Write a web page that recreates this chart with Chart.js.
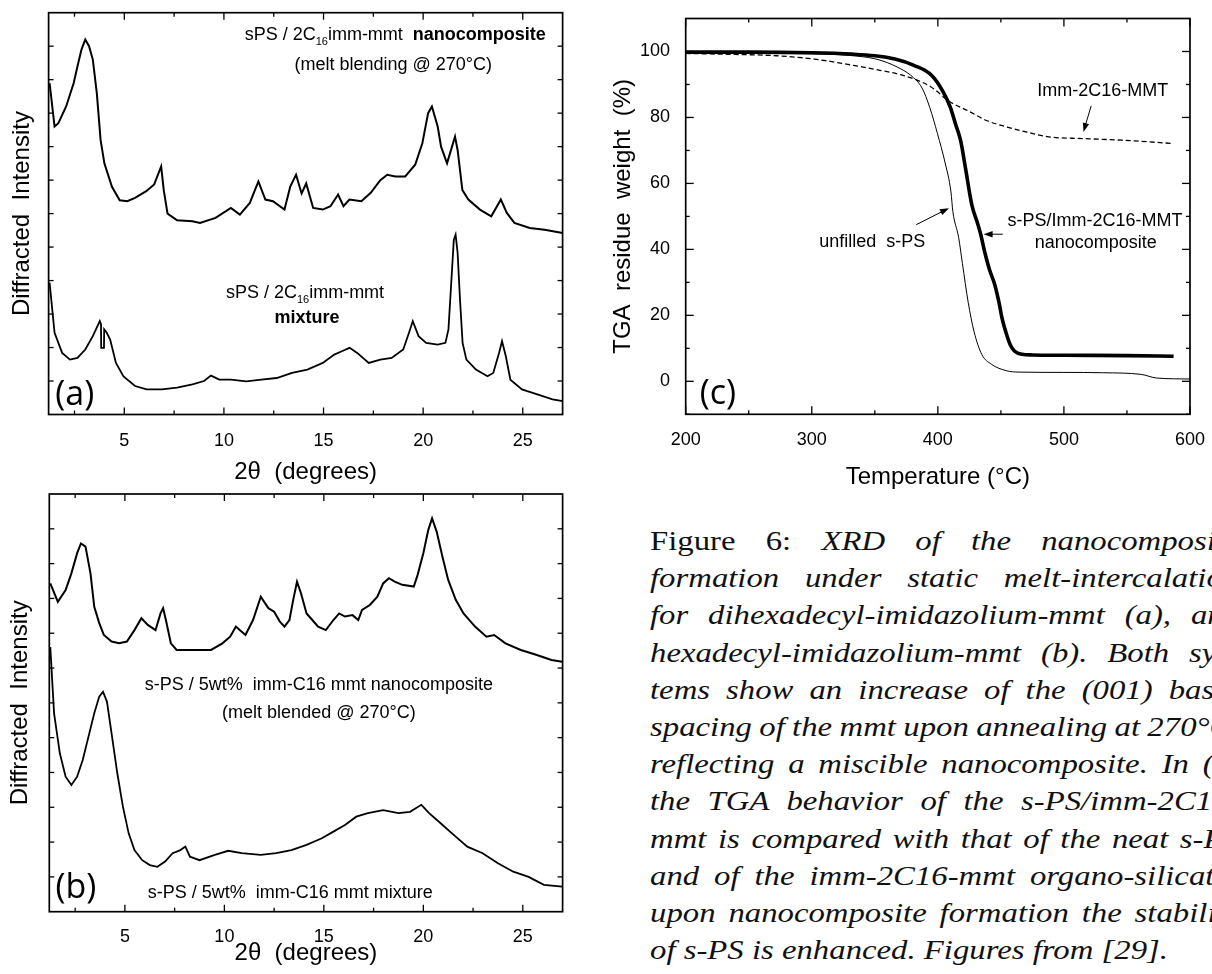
<!DOCTYPE html>
<html>
<head>
<meta charset="utf-8">
<script src="https://cdn.jsdelivr.net/npm/chart.js@4.4.1/dist/chart.umd.min.js"></script>
<style>
html,body{margin:0;padding:0;background:#fff;width:1212px;height:974px;overflow:hidden;position:relative}
canvas{position:absolute}
#capt div{position:absolute;left:650px;width:504px;height:36px;overflow:hidden;white-space:nowrap;font:italic 28px 'Liberation Serif',serif;line-height:36px;color:#111;transform:scaleX(1.17);transform-origin:0 0}
#capt span.rm{font-style:normal}
</style>
</head>
<body>
<canvas id="xrdA" width="580" height="490" style="left:0;top:0"></canvas>
<canvas id="xrdB" width="580" height="484" style="left:0;top:490px"></canvas>
<canvas id="tga" width="612" height="500" style="left:600px;top:0"></canvas>
<div id="capt"></div>
<script>
// ---- XRD (a): sPS / 2C16imm-mmt, [2theta, intensity] ----
const xrdA_nano = [
  [1.25,9.9],[1.5,8.6],[1.69,8.7],[2.08,9.2],[2.46,9.9],[2.65,10.4],[2.85,10.9],[3.04,11.2],[3.23,11.0],
  [3.42,10.6],[3.62,9.6],[3.81,8.2],[4.0,7.5],[4.38,6.8],[4.77,6.4],[5.15,6.37],[5.54,6.47],[6.1,6.67],
  [6.5,6.87],[6.85,7.41],[6.98,6.7],[7.17,6.0],[7.65,5.8],[8.42,5.77],[8.8,5.72],[9.58,5.87],[10.35,6.17],
  [10.8,5.97],[11.3,6.32],[11.73,6.96],[12.08,6.42],[12.46,6.37],[13.04,6.12],[13.33,6.81],[13.62,7.16],
  [13.9,6.6],[14.13,6.9],[14.48,6.17],[14.96,6.12],[15.35,6.22],[15.73,6.57],[16.0,6.22],[16.3,6.42],
  [16.9,6.37],[17.37,6.62],[17.85,7.0],[18.2,7.16],[18.6,7.11],[19.1,7.11],[19.6,7.46],[19.96,8.1],
  [20.25,9.0],[20.44,9.2],[20.73,8.6],[20.9,8.0],[21.2,7.5],[21.45,8.0],[21.6,8.3],[21.73,7.9],[21.97,6.7],
  [22.27,6.42],[22.85,6.12],[23.42,5.92],[23.9,6.42],[24.2,6.02],[24.58,5.72],[25.35,5.57],[26.1,5.52],[27.0,5.42]
];
const xrdA_mix = [
  [1.25,3.94],[1.5,2.44],[1.88,1.84],[2.27,1.64],[2.65,1.69],[3.04,1.94],[3.42,2.34],[3.77,2.79],[3.83,2.7],
  [3.84,1.99],[3.98,1.99],[3.99,2.54],[4.12,2.44],[4.29,2.24],[4.58,1.54],[4.96,1.14],[5.54,0.85],[6.12,0.75],
  [6.88,0.75],[7.65,0.8],[8.42,0.9],[9.0,1.0],[9.35,1.16],[9.77,1.04],[10.35,1.04],[11.12,0.99],[11.88,1.04],
  [12.65,1.09],[13.42,1.24],[14.19,1.34],[14.96,1.54],[15.54,1.79],[15.92,1.89],[16.31,1.99],[16.69,1.84],
  [17.27,1.54],[17.85,1.64],[18.42,1.69],[19.0,1.94],[19.29,2.44],[19.48,2.79],[19.77,2.34],[20.15,2.14],
  [20.73,2.09],[21.12,2.14],[21.27,2.54],[21.4,3.83],[21.54,5.22],[21.63,5.37],[21.73,4.83],[21.85,3.43],
  [21.98,2.14],[22.17,1.64],[22.65,1.34],[23.23,1.14],[23.52,1.24],[23.81,1.84],[23.96,2.19],[24.15,1.74],
  [24.38,1.04],[24.96,0.75],[25.73,0.6],[26.5,0.45],[27.0,0.4]
];

// ---- XRD (b): s-PS / 5wt% imm-C16 mmt ----
const xrdB_nano = [
  [1.25,9.43],[1.63,8.9],[2.02,9.24],[2.31,9.72],[2.6,10.3],[2.79,10.58],[3.02,10.49],[3.27,9.72],[3.46,8.76],
  [3.71,8.29],[3.94,7.95],[4.33,7.76],[4.71,7.71],[5.1,7.76],[5.48,8.09],[5.83,8.43],[6.15,8.24],[6.54,8.09],
  [6.79,8.57],[6.92,8.72],[7.06,8.38],[7.31,7.71],[7.6,7.52],[8.37,7.52],[9.33,7.52],[9.9,7.71],[10.29,7.9],
  [10.58,8.19],[10.77,8.09],[11.06,7.95],[11.44,8.38],[11.83,9.05],[12.21,8.72],[12.5,8.62],[12.79,8.33],
  [13.02,8.19],[13.27,8.38],[13.46,8.96],[13.65,9.48],[13.85,9.15],[14.13,8.57],[14.42,8.38],[14.71,8.19],
  [15.1,8.09],[15.48,8.38],[15.77,8.57],[16.06,8.48],[16.44,8.52],[16.73,8.38],[16.92,8.67],[17.31,8.81],
  [17.69,9.05],[17.98,9.43],[18.27,9.58],[18.56,9.48],[18.94,9.39],[19.52,9.34],[19.71,9.67],[20.0,10.3],
  [20.25,10.97],[20.44,11.3],[20.67,10.92],[20.96,10.2],[21.25,9.53],[21.63,8.96],[22.02,8.57],[22.6,8.19],
  [23.17,7.9],[23.56,7.95],[24.13,7.71],[24.9,7.52],[25.67,7.38],[26.44,7.23],[26.98,7.18]
];
const xrdB_mix = [
  [1.25,7.6],[1.44,5.7],[1.73,4.55],[2.02,3.88],[2.31,3.64],[2.6,3.88],[2.88,4.36],[3.17,5.03],[3.46,5.7],
  [3.71,6.18],[3.9,6.32],[4.1,6.03],[4.33,5.12],[4.62,3.97],[4.9,3.02],[5.19,2.25],[5.48,1.77],[5.87,1.48],
  [6.25,1.34],[6.63,1.29],[7.02,1.44],[7.4,1.68],[7.79,1.77],[8.04,1.87],[8.27,1.58],[8.75,1.48],[9.52,1.63],
  [10.19,1.75],[10.87,1.68],[11.83,1.63],[12.6,1.68],[13.37,1.77],[14.13,1.92],[14.9,2.11],[15.48,2.3],
  [16.06,2.49],[16.63,2.73],[17.21,2.83],[17.98,2.92],[18.75,2.83],[19.33,2.87],[19.9,3.07],[20.29,2.83],
  [20.87,2.54],[21.44,2.25],[22.21,1.87],[22.98,1.68],[23.75,1.39],[24.52,1.15],[25.29,1.0],[26.06,0.77],[26.98,0.72]
];

// ---- TGA (c): [temperature degC, residue wt %] ----
const tgaNano = [
  [200,99.8],[250,99.8],[300,99.6],[332,99.2],[350,98.7],[366,97.7],[381,95.8],[395,92.8],[404,87.9],
  [410,83],[414,78],[418,73.1],[422,64.5],[427,53.4],[431,48.5],[434,44.6],[437,39.5],[441,33.8],[445,29.5],
  [448.5,23.9],[451,19],[454.6,14.1],[457.5,11],[460.7,9.2],[466.8,8.2],[475,8.0],[500,7.9],[550,7.8],[587,7.6]
];
const tgaNeat = [
  [200,99.6],[250,99.5],[300,99.3],[330,98.8],[350,97.8],[360,96.6],[367.7,95.3],[378.4,92.8],[387.5,88.9],
  [393.6,83],[399.7,75.1],[405.8,66.2],[410.4,57.4],[411.9,51.5],[416.5,43.6],[419.5,35.7],[424.1,23.9],
  [428.7,15.1],[434.8,8.2],[442.4,5.2],[454.6,3.2],[463.7,2.8],[500,2.7],[530.8,2.6],[561.3,2.1],[573.5,1.0],[600,0.7]
];
const tgaClay = [
  [200,99.4],[226,99.2],[272,98.7],[302,97.7],[333,95.8],[354,94.3],[372,92.8],[394,89.4],[409,84.9],
  [424,82.0],[439,79.0],[455,77.1],[470,75.6],[488,74.1],[515,73.6],[546,73.1],[587,72.1]
];

const xrdTicks = {xMajor:[5,10,15,20,25], xMinor:[2.5,7.5,12.5,17.5,22.5], yMajor:[1,2,3,4,5,6,7,8,9,10,11], yMinor:[]};
const tgaTicks = {xMajor:[200,300,400,500,600], xMinor:[250,350,450,550], yMajor:[0,20,40,60,80,100], yMinor:[-10,10,30,50,70,90]};

const captionLines = [
  '<span class="rm">Figure 6:</span> XRD of the nanocomposite',
  'formation under static melt-intercalation',
  'for dihexadecyl-imidazolium-mmt (a), and',
  'hexadecyl-imidazolium-mmt (b). Both sys-',
  'tems show an increase of the (001) basal',
  'spacing of the mmt upon annealing at 270&deg;C,',
  'reflecting a miscible nanocomposite. In (c)',
  'the TGA behavior of the s-PS/imm-2C16-',
  'mmt is compared with that of the neat s-PS',
  'and of the imm-2C16-mmt organo-silicate;',
  'upon nanocomposite formation the stability',
  'of s-PS is enhanced. Figures from [29].'
];

Chart.defaults.font.family = "'Liberation Sans', Arial, sans-serif";
Chart.defaults.color = '#000';
Chart.defaults.animation = false;

const SANS = "'Liberation Sans', Arial, sans-serif";

function pts(arr){ return arr.map(([x,y]) => ({x, y})); }

function drawRuns(ctx, runs, cx, cy, size){
  const fontOf = r => (r.bold ? 'bold ' : '') + (r.sub ? Math.round(size*0.6) : size) + 'px ' + SANS;
  let w = 0;
  const widths = runs.map(r => { ctx.font = fontOf(r); const m = ctx.measureText(r.t).width; w += m; return m; });
  let x = cx - w/2;
  ctx.textAlign = 'left';
  ctx.textBaseline = 'middle';
  runs.forEach((r, i) => {
    ctx.font = fontOf(r);
    ctx.fillText(r.t, x, cy + (r.sub ? size*0.38 : 0));
    x += widths[i];
  });
}

function arrow(ctx, x1, y1, x2, y2){
  const a = Math.atan2(y2-y1, x2-x1), h = 9, w = 3.2;
  ctx.beginPath(); ctx.moveTo(x1, y1); ctx.lineTo(x2 - Math.cos(a)*h*0.8, y2 - Math.sin(a)*h*0.8); ctx.stroke();
  ctx.beginPath();
  ctx.moveTo(x2, y2);
  ctx.lineTo(x2 - Math.cos(a)*h - Math.sin(a)*w, y2 - Math.sin(a)*h + Math.cos(a)*w);
  ctx.lineTo(x2 - Math.cos(a)*h + Math.sin(a)*w, y2 - Math.sin(a)*h - Math.cos(a)*w);
  ctx.closePath(); ctx.fill();
}

// frame, inward ticks on all four sides, notes, arrows and the panel letter
function panelPlugin(cfg){
  return {
    id: 'panel',
    afterDatasetsDraw(chart){
      const {ctx, chartArea:{left, right, top, bottom}, scales:{x, y}} = chart;
      ctx.save();
      ctx.strokeStyle = '#000'; ctx.fillStyle = '#000';
      ctx.lineWidth = 1.7;
      ctx.strokeRect(left, top, right-left, bottom-top);
      ctx.lineWidth = 1.3;
      const seg = (x1, y1, x2, y2) => { ctx.beginPath(); ctx.moveTo(x1, y1); ctx.lineTo(x2, y2); ctx.stroke(); };
      const t = cfg.ticks;
      [[t.xMajor, cfg.major], [t.xMinor, cfg.minor]].forEach(([vals, len]) => vals.forEach(v => {
        const p = x.getPixelForValue(v);
        seg(p, bottom, p, bottom-len); seg(p, top, p, top+len);
      }));
      [[t.yMajor, cfg.yMajorLen], [t.yMinor, cfg.minor]].forEach(([vals, len]) => vals.forEach(v => {
        const p = y.getPixelForValue(v);
        seg(left, p, left+len, p); seg(right, p, right-len, p);
      }));
      ctx.lineWidth = 1;
      (cfg.arrows || []).forEach(a => arrow(ctx, x.getPixelForValue(a[0]), y.getPixelForValue(a[1]), x.getPixelForValue(a[2]), y.getPixelForValue(a[3])));
      (cfg.notes || []).forEach(n => drawRuns(ctx, n.runs, x.getPixelForValue(n.at[0]), y.getPixelForValue(n.at[1]), cfg.noteSize));
      ctx.font = "34px 'Open Sans', 'Noto Sans', sans-serif";
      ctx.textAlign = 'center'; ctx.textBaseline = 'middle';
      ctx.fillText(cfg.label, x.getPixelForValue(cfg.labelAt[0]), y.getPixelForValue(cfg.labelAt[1]));
      ctx.restore();
    }
  };
}

const fixTicks = vals => s => { s.ticks = vals.map(v => ({value: v})); };

function xrdChart(id, nano, mix, geo, pcfg){
  new Chart(document.getElementById(id), {
    type: 'line',
    data: {datasets: [
      {data: pts(nano), borderColor: '#000', borderWidth: 2, pointRadius: 0, tension: 0},
      {data: pts(mix), borderColor: '#000', borderWidth: 1.8, pointRadius: 0, tension: 0}
    ]},
    plugins: [panelPlugin(pcfg)],
    options: {
      responsive: false,
      layout: {padding: {top: geo.top, right: geo.right, left: 0, bottom: 0}},
      plugins: {legend: {display: false}, tooltip: {enabled: false}},
      scales: {
        x: {type: 'linear', min: 1.2, max: 27,
            grid: {display: false}, border: {display: false},
            afterBuildTicks: fixTicks(xrdTicks.xMajor),
            ticks: {padding: geo.tickPad, font: {size: 18}},
            title: {display: true, text: '2\u03b8  (degrees)', font: {size: 24}, padding: {top: 0, bottom: geo.titlePad}},
            afterFit: s => { s.height = geo.xh; }},
        y: {min: 0, max: 12,
            grid: {display: false}, border: {display: false},
            ticks: {display: false},
            title: {display: true, text: 'Diffracted  Intensity', font: {size: 24}, padding: {top: geo.yTitlePad, bottom: 0}},
            afterFit: s => { s.width = geo.yw; }}
      }
    }
  });
}

xrdChart('xrdA', xrdA_nano, xrdA_mix,
  {top: 12.7, right: 17.4, xh: 75.5, yw: 48.6, tickPad: 8, titlePad: 3.6, yTitlePad: 7.6},
  {ticks: xrdTicks, major: 7, minor: 4, yMajorLen: 5, noteSize: 18, label: '(a)', labelAt: [2.51, 0.58],
   notes: [
     {at: [18.6, 11.34], runs: [{t: 'sPS / 2C'}, {t: '16', sub: true}, {t: 'imm-mmt  '}, {t: 'nanocomposite', bold: true}]},
     {at: [18.5, 10.45], runs: [{t: '(melt blending @ 270\u00b0C)'}]},
     {at: [14.07, 3.63], runs: [{t: 'sPS / 2C'}, {t: '16', sub: true}, {t: 'imm-mmt'}]},
     {at: [14.17, 2.89], runs: [{t: 'mixture', bold: true}]}
   ]});

xrdChart('xrdB', xrdB_nano, xrdB_mix,
  {top: 4, right: 17.4, xh: 62.3, yw: 49.3, tickPad: 6.5, titlePad: 6.6, yTitlePad: 5.6},
  {ticks: xrdTicks, major: 7, minor: 4, yMajorLen: 5, noteSize: 18, label: '(b)', labelAt: [2.54, 0.67],
   notes: [
     {at: [14.75, 6.52], runs: [{t: 's-PS / 5wt%  imm-C16 mmt nanocomposite'}]},
     {at: [14.75, 5.70], runs: [{t: '(melt blended @ 270\u00b0C)'}]},
     {at: [13.31, 0.53], runs: [{t: 's-PS / 5wt%  imm-C16 mmt mixture'}]}
   ]});

new Chart(document.getElementById('tga'), {
  type: 'line',
  data: {datasets: [
    {data: pts(tgaNano), borderColor: '#000', borderWidth: 3.6, pointRadius: 0, cubicInterpolationMode: 'monotone'},
    {data: pts(tgaNeat), borderColor: '#000', borderWidth: 1, pointRadius: 0, cubicInterpolationMode: 'monotone'},
    {data: pts(tgaClay), borderColor: '#000', borderWidth: 1.3, borderDash: [5, 3], pointRadius: 0, cubicInterpolationMode: 'monotone'}
  ]},
  plugins: [panelPlugin({ticks: tgaTicks, major: 8, minor: 4, yMajorLen: 8, noteSize: 18, label: '(c)', labelAt: [225.5, -3.9],
    arrows: [[521.6, 83.5, 515.5, 75.6], [382.9, 47.5, 408.8, 52.5], [451.5, 44.6, 436.3, 44.6]],
    notes: [
      {at: [530.8, 87.9], runs: [{t: 'Imm-2C16-MMT'}]},
      {at: [347.9, 42.1], runs: [{t: 'unfilled  s-PS'}]},
      {at: [524.7, 48.5], runs: [{t: 's-PS/Imm-2C16-MMT'}]},
      {at: [525.3, 41.8], runs: [{t: 'nanocomposite'}]}
    ]})],
  options: {
    responsive: false,
    layout: {padding: {top: 8.3, right: 16.7, left: 0, bottom: 0}},
    plugins: {legend: {display: false}, tooltip: {enabled: false}},
    scales: {
      x: {type: 'linear', min: 200, max: 600,
          grid: {display: false}, border: {display: false},
          afterBuildTicks: fixTicks(tgaTicks.xMajor),
          ticks: {padding: 7, font: {size: 18}},
          title: {display: true, text: 'Temperature (\u00b0C)', font: {size: 24}, padding: {top: 0, bottom: 8.6}},
          afterFit: s => { s.height = 85.7; }},
      y: {min: -10, max: 110,
          grid: {display: false}, border: {display: false},
          afterBuildTicks: fixTicks(tgaTicks.yMajor),
          ticks: {padding: 7.7, font: {size: 18}},
          title: {display: true, text: 'TGA  residue  weight  (%)', font: {size: 24}, padding: {top: 8.6, bottom: 0}},
          afterFit: s => { s.width = 85.7; }}
    }
  }
});

// caption block: each line is stretched to the column width through word spacing,
// the closing line keeps natural spacing
const capt = document.getElementById('capt');
const colWidth = 504;
captionLines.forEach((html, k) => {
  const d = document.createElement('div');
  const s = document.createElement('span');
  s.innerHTML = html;
  d.appendChild(s);
  d.style.top = (541 + 37.2*k - 18) + 'px';
  capt.appendChild(d);
  if (k < captionLines.length - 1) {
    const gaps = (s.textContent.match(/ /g) || []).length;
    const extra = (colWidth - s.offsetWidth) / gaps;
    if (gaps && extra > -3) s.style.wordSpacing = extra.toFixed(2) + 'px';
  }
});
</script>
</body>
</html>
